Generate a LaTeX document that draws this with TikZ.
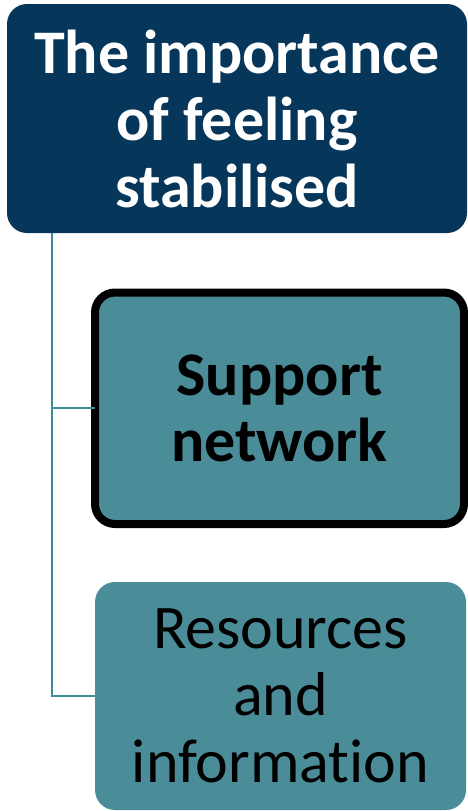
\documentclass[tikz,border=0pt]{standalone}
\usepackage{fontspec}
\setmainfont{Carlito}[Ligatures={NoCommon,NoRequired,NoContextual}]
\definecolor{navy}{RGB}{6,55,91}
\definecolor{teal}{RGB}{74,140,151}
\definecolor{conn}{RGB}{62,140,152}
\begin{document}
\begin{tikzpicture}[x=1pt,y=-1pt,
  every node/.style={inner sep=0pt, outer sep=0pt, align=center},
  topbox/.style={fill=navy, rounded corners=20pt, text=white, font=\fontsize{62}{67}\selectfont\bfseries},
  childbox/.style={fill=teal, rounded corners=20pt, text=black, font=\fontsize{62}{67}\selectfont},
  connector/.style={draw=conn, line width=2pt}]
\useasboundingbox (0,0) rectangle (468,811);
\node[topbox, minimum width=460pt, minimum height=229pt] (top) at (237,118.5) {The importance\\of feeling\\stabilised};
\node[childbox, draw=black, line width=8pt, minimum width=369pt, minimum height=231.5pt, font=\fontsize{62}{66}\selectfont\bfseries] (b2) at (279.5,408.25) {Support\\network};
\node[childbox, minimum width=371pt, minimum height=228pt] (b3) at (280.5,696) {Resources\\and\\information};
\coordinate (trunk) at (52,0);
\draw[connector] (top.south -| trunk) |- (b2.west);
\draw[connector] (top.south -| trunk) |- (b3.west);
\end{tikzpicture}
\end{document}
